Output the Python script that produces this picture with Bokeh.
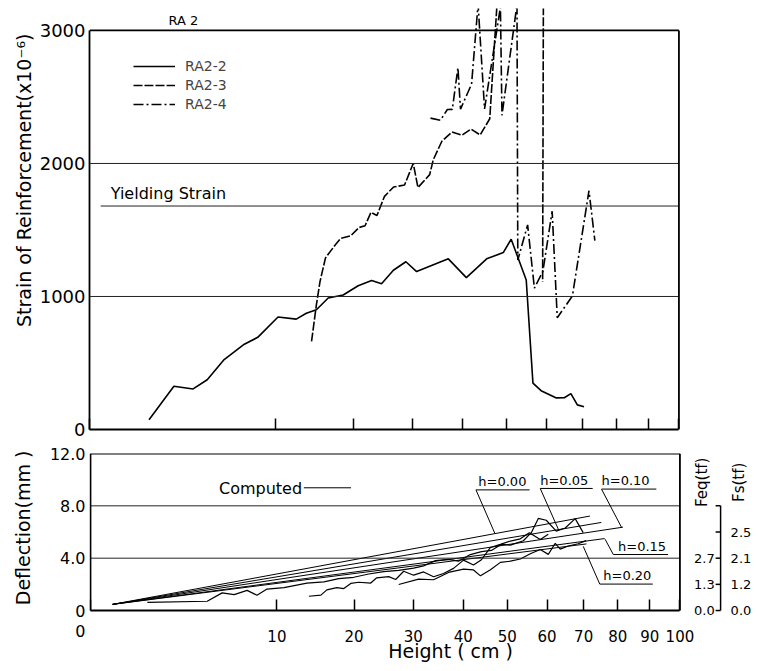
import numpy as np
from bokeh.plotting import figure
from bokeh.models import (FixedTicker, CustomJSTickFormatter, Label, Arrow, Range1d, Title)
from bokeh.layouts import column
from bokeh.embed import file_html
from bokeh.resources import INLINE

FONT = "DejaVu Sans"

# ---------------- data ----------------
height_ticks = [0, 10, 20, 30, 40, 50, 60, 70, 80, 90, 100]
strain_ticks = [0, 1000, 2000, 3000]
strain_grid = [1000, 2000]
defl_ticks = [0, 4, 8, 12]
defl_tick_labels = ["0", "4.0", "8.0", "12.0"]
defl_grid = [4, 8]
yield_strain = 1680

ra2_2_h = [1.02, 2.05, 3.09, 3.99, 5.22, 6.90, 8.15, 10.23, 12.3, 13.53, 14.82, 16.4, 18.52,
           20.78, 22.91, 24.55, 26.58, 28.81, 30.8, 37.06, 40.88, 45.4, 49.28, 51.18, 53.06,
           54.9, 56.6, 58.7, 62.6, 64.9, 66.7, 68.5, 70.4]
ra2_2_s = [74, 325, 305, 374, 526, 641, 693, 846, 830, 874, 900, 989, 1011,
           1081, 1120, 1095, 1197, 1261, 1187, 1283, 1142, 1283, 1330, 1431, 1274,
           1124, 349, 292, 238, 239, 270, 185, 171]

ra2_3_h = [14.19, 14.82, 15.30, 16.03, 17.43, 18.15, 19.64, 20.92, 21.86, 22.80, 23.78, 25.05,
           26.62, 28.57, 30.17, 31.05, 33.31, 34.02, 35.74, 37.81, 39.92, 41.89, 43.93, 46.11,
           48.0, 53.0, 59.3, 59.1]
ra2_3_s = [662, 938, 1114, 1290, 1391, 1436, 1456, 1519, 1532, 1633, 1609, 1753,
           1823, 1838, 2001, 1819, 1916, 2029, 2167, 2236, 2212, 2259, 2214, 2336,
           3300, 3500, 3250, 1111]

ra2_4_h = [33.47, 35.45, 36.86, 37.89, 39.07, 39.62, 42.02, 43.46, 44.92, 48.6, 48.97, 52.6,
           52.8, 55.25, 56.97, 59.17, 61.61, 62.98, 67.12, 71.81, 73.51]
ra2_4_s = [2341, 2325, 2406, 2407, 2720, 2408, 2597, 3199, 2410, 3176, 2362, 3196,
           1274, 1538, 1063, 1189, 1641, 840, 1004, 1795, 1420]

# measured deflections (mm)
m1_h = [0.93, 3.92, 4.99, 5.94, 7.06, 7.98, 8.97, 10.78, 13.48, 15.68, 17.75, 19.95, 22.29,
        24.75, 27.34, 30.05, 31.94, 34.27, 36.9, 38.98, 41.34, 44.0, 46.27, 48.6, 50.75,
        53.93, 55.93, 57.72, 59.79, 62.44, 64.87, 67.62, 69.87]
m1_d = [0.62, 0.71, 1.35, 1.21, 1.54, 1.17, 1.64, 1.75, 2.09, 2.19, 2.44, 2.54, 2.79,
        2.97, 3.07, 3.24, 3.41, 3.81, 3.91, 3.77, 4.25, 4.50, 4.59, 5.06, 5.00,
        5.33, 5.95, 7.04, 6.90, 6.07, 6.31, 7.02, 5.95]
m2_h = [13.73, 15.28, 16.08, 17.47, 18.47, 19.5, 20.72, 22.61, 23.58, 25.6, 26.81, 28.23,
        30.05, 31.94, 33.88, 35.88, 37.93, 40.05, 42.22, 44.0, 46.04, 48.36, 50.75, 53.18,
        55.43, 58.23, 60.32]
m2_d = [1.09, 1.18, 1.58, 1.75, 1.68, 2.07, 2.16, 2.10, 2.50, 2.59, 2.37, 3.00,
        2.70, 2.95, 2.58, 2.83, 3.22, 3.85, 3.48, 3.88, 4.82, 5.06, 5.31, 5.48,
        5.95, 5.43, 5.82]
m3_h = [27.34, 30.99, 33.88, 36.9, 40.05, 42.22, 43.77, 46.04, 48.36, 50.75, 53.18, 55.68,
        58.23, 60.32, 62.17, 63.52, 65.69, 68.46, 70.72]
m3_d = [1.99, 2.40, 2.35, 2.91, 3.16, 3.10, 2.65, 3.12, 3.68, 3.77, 3.94, 4.34,
        4.66, 4.29, 5.14, 4.69, 4.93, 5.10, 5.34]

# computed deflection lines
comp_labels = ["h=0.00", "h=0.05", "h=0.10", "h=0.15", "h=0.20"]
comp_start_h = 0.14
comp_start_d = 0.47
comp_end_h = [71.8, 75.1, 81.6, 76.1, 70.8]
comp_end_d = [7.22, 6.73, 6.37, 5.50, 5.09]

# secondary load scales (placed at deflection positions)
load_ticks = [0, 2, 4, 6, 8]
feq_labels = ["0.0", "1.3", "2.7"]
fs_labels = ["0.0", "1.2", "2.1", "2.5"]

sq = lambda a: np.sqrt(np.asarray(a, dtype=float))

PX = 59.2        # pixels per sqrt(cm) unit
X_END = 11.35    # frame extends right of the 100 cm border (sqrt scale units)
HAS_STANDOFF = "standoff" in Title.properties()


def add_text(fig, x, y, text, size, angle=0.0, align="left", baseline="bottom"):
    fig.add_layout(Label(x=x, y=y, text=text, angle=angle, text_align=align,
                         text_baseline=baseline, text_font=FONT, text_font_size=size,
                         text_color="black"))


def add_seg(fig, x0, y0, x1, y1, w=1.0, color="black"):
    fig.add_layout(Arrow(end=None, start=None, x_start=x0, y_start=y0, x_end=x1, y_end=y1,
                         line_color=color, line_width=w))


def add_title(fig, text, side, align, offset, size="19px", valign="bottom", standoff=None):
    kw = dict(text=text, align=align, offset=offset, text_font=FONT, text_font_size=size,
              text_font_style="normal", text_color="black", vertical_align=valign)
    if HAS_STANDOFF and standoff is not None:
        kw["standoff"] = standoff
    fig.add_layout(Title(**kw), side)


def style_xaxis(ax, labels):
    ax.ticker = FixedTicker(ticks=list(sq(height_ticks)))
    ax.formatter = CustomJSTickFormatter(
        code="return tick <= 0 ? '' : Math.round(tick*tick).toString();")
    ax.bounds = (0, 10)
    ax.axis_line_color = "black"
    ax.axis_line_width = 1.8
    ax.major_tick_in = 11
    ax.major_tick_out = 0
    ax.major_tick_line_width = 1.5
    ax.minor_tick_line_color = None
    if labels:
        ax.major_label_standoff = 19
        ax.major_label_text_font = FONT
        ax.major_label_text_font_size = "15px"
        ax.major_label_text_color = "black"
    else:
        ax.major_label_text_font_size = "1px"
        ax.major_label_text_alpha = 0
        ax.major_label_standoff = 0


def style_yaxis(ax, ticks, size, bounds, line=True):
    ax.ticker = FixedTicker(ticks=ticks)
    ax.bounds = bounds
    ax.axis_line_color = "black" if line else None
    ax.axis_line_width = 1.8
    ax.major_tick_in = 0
    ax.major_tick_out = 0
    ax.minor_tick_line_color = None
    ax.major_label_standoff = 4
    ax.major_label_text_font = FONT
    ax.major_label_text_font_size = size
    ax.major_label_text_color = "black"


# ---------------- top figure ----------------
top = figure(width=758, height=440, x_range=Range1d(0, X_END), y_range=Range1d(0, 3165),
             output_backend="svg", toolbar_location=None,
             min_border_left=86, min_border_right=0, min_border_top=8, min_border_bottom=11)
top.outline_line_color = None
top.xgrid.visible = False
top.ygrid.visible = False
style_xaxis(top.xaxis[0], False)
style_yaxis(top.yaxis[0], strain_ticks, "18px", (0, 3000))

# grid lines, top and right border
for g in strain_grid:
    add_seg(top, 0, g, 10, g, w=1.0, color="#222222")
add_seg(top, 0.19, yield_strain, 10, yield_strain, w=1.0, color="#222222")
add_seg(top, 0, strain_ticks[-1], 10, strain_ticks[-1], w=1.8)
add_seg(top, 10, 0, 10, strain_ticks[-1], w=1.8)

top.line(sq(ra2_2_h), ra2_2_s, line_color="black", line_width=1.6, legend_label="RA2-2")
top.line(sq(ra2_3_h), ra2_3_s, line_color="black", line_width=1.6, line_dash="9 2",
         legend_label="RA2-3")
top.line(sq(ra2_4_h), ra2_4_s, line_color="black", line_width=1.6, line_dash="10 3 2 3",
         legend_label="RA2-4")

lg = top.legend[0]
lg.location = (44, 316)
lg.border_line_color = None
lg.background_fill_alpha = 0
lg.padding = 0
lg.margin = 0
lg.spacing = 1
lg.glyph_width = 42
lg.glyph_height = 18
lg.label_height = 18
lg.label_standoff = 10
lg.label_text_font = FONT
lg.label_text_font_size = "14px"

add_text(top, 1.34, 3075, "RA 2", "13px", baseline="middle")
add_text(top, 0.36, 1702, "Yielding Strain", "16px", baseline="bottom")
add_title(top, "Strain of Reinforcement(x10\u207b\u2076)", "left", "right", 25,
          valign="top", standoff=0)

# ---------------- bottom figure ----------------
# the frame runs a pixel left of x=0 and below y=0; the x axis is pinned at 0 so the
# texts under it stay visible.  The left axis also carries the "0" of the height scale.
X_START = -1.0 / PX
Y_START = -4.66
ZERO_LABEL_Y = -1.6   # vertical position of the height-axis "0"
bot = figure(width=758, height=231, x_range=Range1d(X_START, X_END + X_START),
             y_range=Range1d(Y_START, 12),
             output_backend="svg", toolbar_location=None,
             min_border_left=85, min_border_right=0, min_border_top=13, min_border_bottom=0)
bot.outline_line_color = None
bot.xgrid.visible = False
bot.ygrid.visible = False
bxa = bot.xaxis[0]
style_xaxis(bxa, True)
bxa.fixed_location = 0
by = bot.yaxis[0]
style_yaxis(by, defl_ticks + [ZERO_LABEL_Y], "16px", (ZERO_LABEL_Y, 12), line=False)
by.formatter = CustomJSTickFormatter(
    args=dict(tvals=defl_ticks, tlabels=defl_tick_labels, zlabel=str(height_ticks[0])),
    code="const i = tvals.indexOf(tick); return i >= 0 ? tlabels[i] : zlabel;")

for g in defl_grid:
    add_seg(bot, 0, g, 10, g, w=1.0, color="#222222")
add_seg(bot, 0, 0, 0, defl_ticks[-1], w=1.8)
add_seg(bot, 0, defl_ticks[-1], 10, defl_ticks[-1], w=1.8)
add_seg(bot, 10, 0, 10, defl_ticks[-1], w=1.8)

for hh, dd in ((m1_h, m1_d), (m2_h, m2_d), (m3_h, m3_d)):
    bot.line(sq(hh), dd, line_color="black", line_width=1.2)

xs = [list(sq([comp_start_h, e])) for e in comp_end_h]
ys = [[comp_start_d, e] for e in comp_end_d]
bot.multi_line(xs, ys, line_color="black", line_width=1.0)

# computed-line annotations
add_text(bot, 2.18, 9.36, "Computed", "16px", baseline="middle")
add_seg(bot, 3.62, 9.38, 4.42, 9.38)
# (text x, underline x0, x1, underline y, leader end x, leader end y)
ann = [(6.58, 6.54, 7.45, 9.22, 6.86, 5.90),
       (7.63, 7.63, 8.52, 9.33, 7.94, 6.18),
       (8.67, 8.67, 9.60, 9.28, 9.01, 6.35),
       (8.95, 8.87, 9.80, 4.28, 8.73, 5.45),
       (8.70, 8.64, 9.54, 2.02, 8.36, 4.90)]
for lab, (tx, ux0, ux1, uy, lx, ly) in zip(comp_labels, ann):
    add_text(bot, tx, uy + 0.05, lab, "13px", baseline="bottom")
    add_seg(bot, ux0, uy, ux1, uy)
    add_seg(bot, ux0, uy, lx, ly)

# secondary axis (Feq / Fs) drawn beside the frame
FS_X = 10.69
TICK = 5 / PX
add_seg(bot, FS_X, load_ticks[0], FS_X, load_ticks[-1], w=1.5)
for t in load_ticks:
    add_seg(bot, FS_X - TICK, t, FS_X, t, w=1.5)
for t, lab in zip(load_ticks, feq_labels):
    add_text(bot, 10.59, t, lab, "13px", align="right", baseline="middle")
for t, lab in zip(load_ticks, fs_labels):
    add_text(bot, 10.86, t, lab, "13px", align="left", baseline="middle")
add_text(bot, 10.37, 9.8, "Feq(tf)", "15px", angle=np.pi / 2, align="center",
         baseline="middle")
add_text(bot, 11.0, 9.8, "Fs(tf)", "15px", angle=np.pi / 2, align="center",
         baseline="middle")

add_text(bot, 6.11, -3.13, "Height ( cm )", "19px", align="center", baseline="middle")
add_title(bot, "Deflection(mm )", "left", "right", -3, valign="top", standoff=22)

layout = column(top, bot, spacing=0)
open("out.html", "w").write(file_html(layout, INLINE))
